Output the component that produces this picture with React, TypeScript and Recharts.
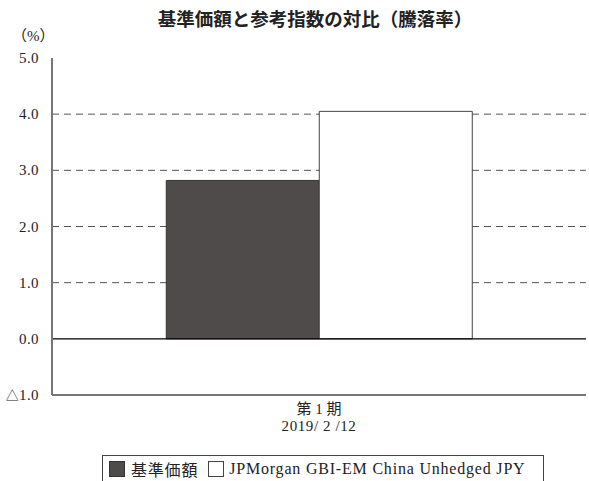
import { BarChart, Bar, XAxis, YAxis, CartesianGrid, ReferenceLine, Legend } from 'recharts';

// 期間ラベル（X軸）
const periods = ['第 1 期'];
const periodDates = ['2019/ 2 /12'];

// 騰落率（%）
const navReturn = [2.82];
const indexReturn = [4.05];

// Y軸目盛
const yTicks = [-1, 0, 1, 2, 3, 4, 5];
const gridValues = [1, 2, 3, 4];

const seriesNames = ['基準価額', 'JPMorgan GBI-EM China Unhedged JPY'];

const data = periods.map((p, i) => ({
    period: p,
    date: periodDates[i],
    nav: navReturn[i],
    index: indexReturn[i],
}));

const FONT = "'Liberation Serif', 'Noto Sans CJK JP', serif";
const AXIS_COLOR = '#777';

const formatY = (v: number) => (v < 0 ? '△' + Math.abs(v).toFixed(1) : v.toFixed(1));

const PeriodTick = (props: any) => {
    const { x, y, payload } = props;
    const idx = periods.indexOf(payload.value);
    return (
        <g>
            <text x={x} y={y + 11} textAnchor="middle" fontSize={15} fill="#222" fontFamily={FONT}>
                {payload.value}
            </text>
            <text x={x} y={y + 28} textAnchor="middle" fontSize={15} letterSpacing={0.6} fill="#222" fontFamily={FONT}>
                {periodDates[idx]}
            </text>
        </g>
    );
};

// Y軸目盛ラベル（負値は△表記、△は少し小さめ）
const ValueTick = (props: any) => {
    const { x, y, payload } = props;
    const v = payload.value as number;
    const label = formatY(v);
    return (
        <text x={x} y={y} dy={5} textAnchor="end" fontSize={15} letterSpacing={0.4} fill="#222" fontFamily={FONT}>
            {v < 0 ? (
                <>
                    <tspan fontSize={13}>△</tspan>
                    <tspan>{label.slice(1)}</tspan>
                </>
            ) : (
                label
            )}
        </text>
    );
};

const LegendBox = () => (
    <div
        style={{
            border: '1px solid #444',
            display: 'flex',
            alignItems: 'center',
            height: 25,
            width: 428,
            padding: '0 6px',
            fontFamily: FONT,
            fontSize: 16,
            letterSpacing: 0.8,
            color: '#222',
            background: '#fff',
            whiteSpace: 'nowrap',
        }}
    >
        <span style={{ width: 14, height: 14, background: '#4f4b4a', border: '1px solid #333', marginRight: 6 }} />
        <span style={{ marginRight: 10 }}>{seriesNames[0]}</span>
        <span style={{ width: 14, height: 14, background: '#fff', border: '1px solid #444', marginRight: 5 }} />
        <span>{seriesNames[1]}</span>
    </div>
);

export default function App() {
    return (
        <div style={{ position: 'relative', width: 589, height: 481, background: '#fff', overflow: 'hidden' }}>
            <style>{'body{margin:0}'}</style>
            <div
                style={{
                    position: 'absolute',
                    top: 5,
                    left: 0,
                    width: 630,
                    textAlign: 'center',
                    fontFamily: "'Noto Sans CJK JP', sans-serif",
                    fontWeight: 700,
                    fontSize: 18.5,
                    color: '#222',
                }}
            >
                基準価額と参考指数の対比（騰落率）
            </div>
            <div
                style={{
                    position: 'absolute',
                    top: 24,
                    left: 12,
                    fontFamily: FONT,
                    fontSize: 15,
                    color: '#222',
                }}
            >
                （%）
            </div>
            <BarChart
                width={589}
                height={481}
                data={data}
                margin={{ top: 58, right: 3, left: 0, bottom: 0 }}
                barCategoryGap="21.4%"
                barGap={0}
            >
                <CartesianGrid
                    horizontal
                    vertical={false}
                    horizontalValues={gridValues}
                    stroke="#555"
                    strokeDasharray="7 5"
                />
                <XAxis
                    dataKey="period"
                    tick={<PeriodTick />}
                    tickLine={false}
                    axisLine={{ stroke: AXIS_COLOR, strokeWidth: 2 }}
                    height={59}
                    interval={0}
                />
                <XAxis xAxisId="top" orientation="top" dataKey="period" tick={false} tickLine={false} height={0} axisLine={{ stroke: '#444' }} />
                <YAxis
                    domain={[-1, 5]}
                    ticks={yTicks}
                    tickLine={false}
                    tickMargin={7}
                    width={52}
                    axisLine={{ stroke: AXIS_COLOR, strokeWidth: 2 }}
                    tick={<ValueTick />}
                    interval={0}
                />
                <YAxis yAxisId="right" orientation="right" domain={[-1, 5]} tick={false} tickLine={false} width={0} axisLine={{ stroke: '#444' }} />
                <Bar dataKey="nav" name={seriesNames[0]} fill="#4f4b4a" stroke="#333" isAnimationActive={false} />
                <Bar dataKey="index" name={seriesNames[1]} fill="#ffffff" stroke="#444" isAnimationActive={false} />
                <ReferenceLine y={0} stroke="#000" strokeWidth={1.2} />
                <Legend
                    verticalAlign="bottom"
                    content={<LegendBox />}
                    wrapperStyle={{ position: 'absolute', left: 102, top: 455, width: 'auto' }}
                />
            </BarChart>
        </div>
    );
}
